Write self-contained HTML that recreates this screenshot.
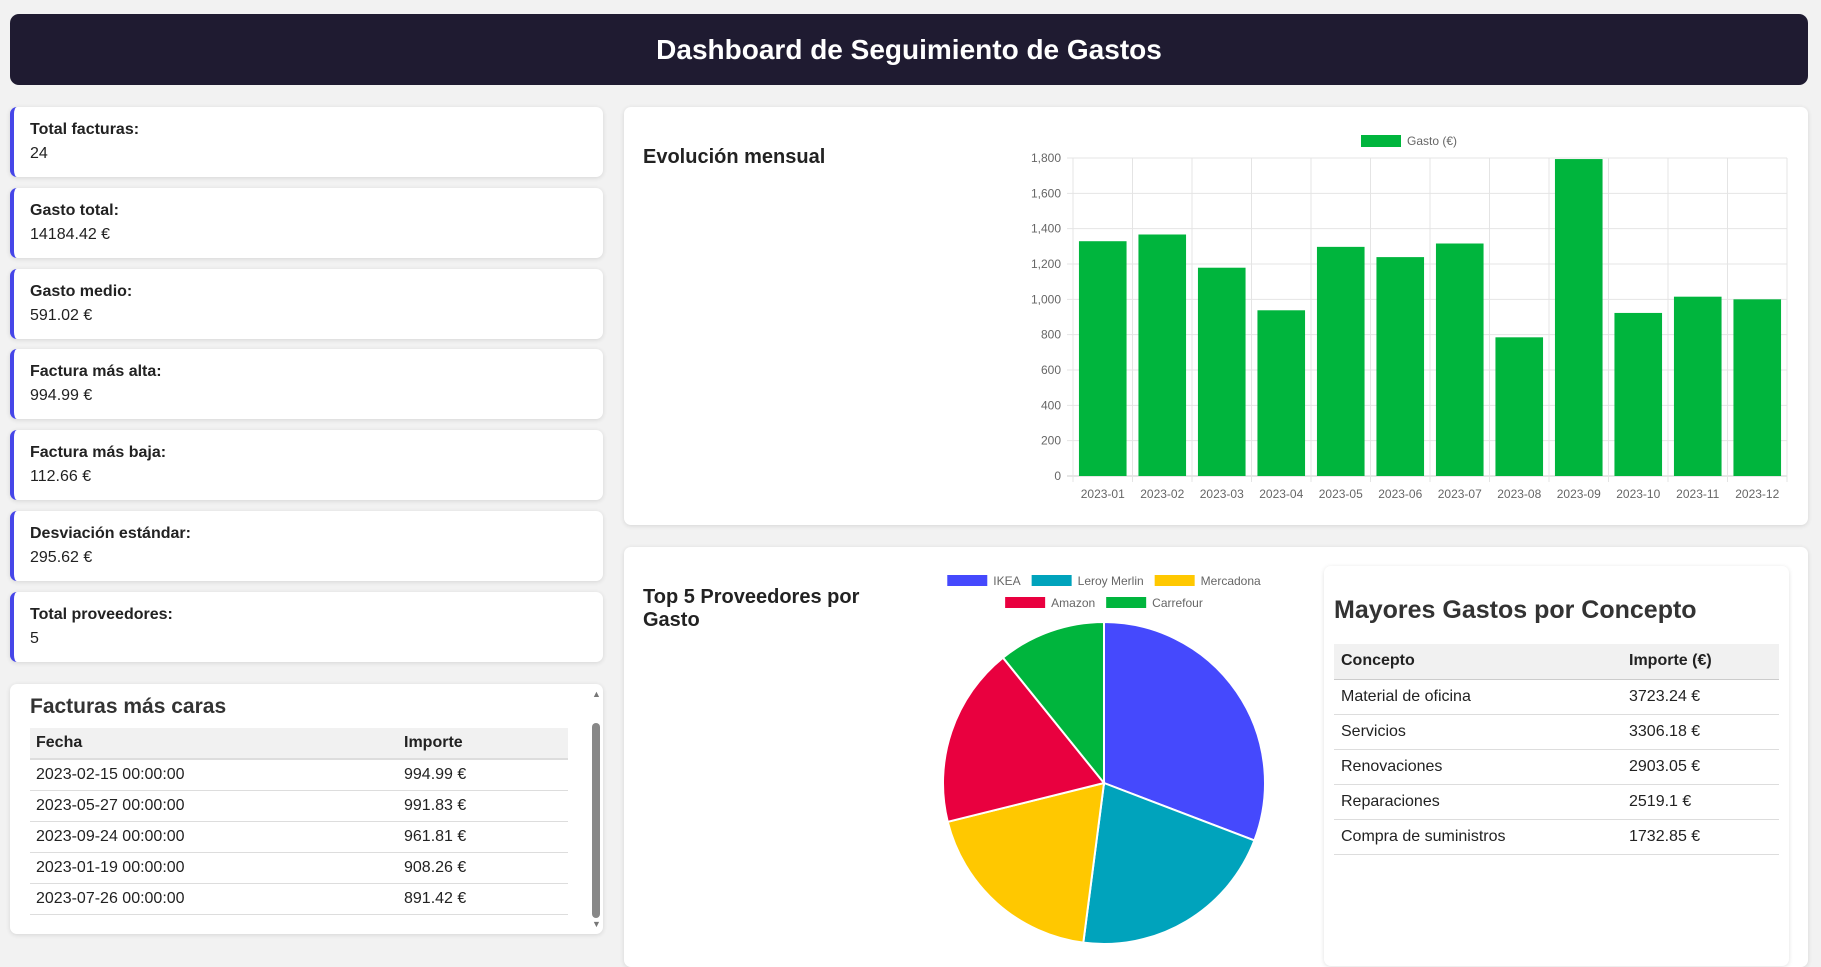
<!DOCTYPE html>
<html><head><meta charset="utf-8">
<style>
*{box-sizing:border-box;margin:0;padding:0}
body{width:1821px;height:955px;overflow:hidden;background:#f2f2f2;font-family:"Liberation Sans",Arial,sans-serif;color:#222;position:relative}
.abs{position:absolute}
.header{left:10px;top:14px;width:1798px;height:71px;background:#1f1b31;border-radius:9px;color:#fff;font-size:28px;font-weight:bold;text-align:center;line-height:71px}
.card{position:absolute;background:#fff;border-radius:7px;box-shadow:0 1px 5px rgba(0,0,0,.12)}
.stat{left:10px;width:593px;height:70px;border-left:4px solid #4646e8;padding:14px 0 0 16px}
.stat b{display:block;font-size:16px;margin-bottom:6px}
.stat span{font-size:16px}
table{border-collapse:collapse}
</style></head><body>
<div class="abs header">Dashboard de Seguimiento de Gastos</div>

<div class="card stat" style="top:107px"><b>Total facturas:</b><span>24</span></div>
<div class="card stat" style="top:188px"><b>Gasto total:</b><span>14184.42 €</span></div>
<div class="card stat" style="top:269px"><b>Gasto medio:</b><span>591.02 €</span></div>
<div class="card stat" style="top:349px"><b>Factura más alta:</b><span>994.99 €</span></div>
<div class="card stat" style="top:430px"><b>Factura más baja:</b><span>112.66 €</span></div>
<div class="card stat" style="top:511px"><b>Desviación estándar:</b><span>295.62 €</span></div>
<div class="card stat" style="top:592px"><b>Total proveedores:</b><span>5</span></div>

<div class="card" style="left:10px;top:684px;width:593px;height:250px">
 <div class="abs" style="left:20px;top:11px;font-size:21px;font-weight:bold;color:#333">Facturas más caras</div>
 <table class="abs" style="left:20px;top:44px;width:538px;font-size:16px">
  <tr style="background:#f1f1f1;height:31px;font-weight:bold;border-bottom:2px solid #ddd"><td style="padding-left:6px;width:374px">Fecha</td><td>Importe</td></tr>
  <tr style="height:31px;border-bottom:1px solid #ddd"><td style="padding-left:6px">2023-02-15 00:00:00</td><td>994.99 €</td></tr>
  <tr style="height:31px;border-bottom:1px solid #ddd"><td style="padding-left:6px">2023-05-27 00:00:00</td><td>991.83 €</td></tr>
  <tr style="height:31px;border-bottom:1px solid #ddd"><td style="padding-left:6px">2023-09-24 00:00:00</td><td>961.81 €</td></tr>
  <tr style="height:31px;border-bottom:1px solid #ddd"><td style="padding-left:6px">2023-01-19 00:00:00</td><td>908.26 €</td></tr>
  <tr style="height:31px;border-bottom:1px solid #ddd"><td style="padding-left:6px">2023-07-26 00:00:00</td><td>891.42 €</td></tr>
 </table>
 <div class="abs" style="left:582px;top:39px;width:8px;height:195px;background:#888;border-radius:4px"></div>
 <div class="abs" style="left:582px;top:5px;font-size:9px;color:#777">▲</div>
 <div class="abs" style="left:582px;top:235px;font-size:9px;color:#777">▼</div>
</div>

<div class="card" style="left:624px;top:107px;width:1184px;height:418px">
 <div class="abs" style="left:19px;top:39px;font-size:20px;font-weight:bold">Evolución mensual</div>
</div>
<svg class="abs" style="left:0;top:0" width="1821" height="955" id="bar"></svg>

<div class="card" style="left:624px;top:547px;width:1184px;height:420px">
 <div class="abs" style="left:19px;top:39px;width:240px;font-size:20px;font-weight:bold;line-height:23px">Top 5 Proveedores por Gasto</div>
</div>
<svg class="abs" style="left:0;top:0" width="1821" height="955" id="pie"></svg>

<div class="card" style="left:1324px;top:566px;width:465px;height:400px">
 <div class="abs" style="left:10px;top:30px;font-size:25px;font-weight:bold;color:#333">Mayores Gastos por Concepto</div>
 <table class="abs" style="left:10px;top:78px;width:445px;font-size:16px">
  <tr style="background:#f1f1f1;height:35px;font-weight:bold;border-bottom:1px solid #ccc"><td style="padding-left:7px;width:295px">Concepto</td><td>Importe (€)</td></tr>
  <tr style="height:35px;border-bottom:1px solid #ddd"><td style="padding-left:7px">Material de oficina</td><td>3723.24 €</td></tr>
  <tr style="height:35px;border-bottom:1px solid #ddd"><td style="padding-left:7px">Servicios</td><td>3306.18 €</td></tr>
  <tr style="height:35px;border-bottom:1px solid #ddd"><td style="padding-left:7px">Renovaciones</td><td>2903.05 €</td></tr>
  <tr style="height:35px;border-bottom:1px solid #ddd"><td style="padding-left:7px">Reparaciones</td><td>2519.1 €</td></tr>
  <tr style="height:35px;border-bottom:1px solid #ddd"><td style="padding-left:7px">Compra de suministros</td><td>1732.85 €</td></tr>
 </table>
</div>

<script>
const months=["2023-01","2023-02","2023-03","2023-04","2023-05","2023-06","2023-07","2023-08","2023-09","2023-10","2023-11","2023-12"];
const gasto=[1329,1367,1179,938,1297,1239,1316,785,1794,923,1015,1000];
const yTicks=[0,200,400,600,800,1000,1200,1400,1600,1800];
const provLabels=["IKEA","Leroy Merlin","Mercadona","Amazon","Carrefour"];
const provValues=[4369,3014,2705,2564,1532];
const provColors=["#4549fd","#00a3bc","#ffc800","#e9003f","#00b53d"];

const NS="http://www.w3.org/2000/svg";
function mk(p,t,a,txt){const e=document.createElementNS(NS,t);for(const k in a)e.setAttribute(k,a[k]);if(txt!==undefined)e.textContent=txt;p.appendChild(e);return e;}
const bar=document.getElementById('bar');
const X0=1073,X1=1787,Y0=476,Y1=158,YMAX=1800;
const y=v=>Y0-(v/YMAX)*(Y0-Y1);
const bw=(X1-X0)/months.length;
const x=i=>X0+i*bw;
yTicks.forEach(t=>{
 const l=mk(bar,'line',{x1:X0-6,x2:X1,y1:y(t),y2:y(t),stroke:t===0?'#ccc':'#e4e4e4'});
 
 
 const tx=mk(bar,'text',{x:X0-12,y:y(t)+4,'text-anchor':'end','font-size':12,fill:'#666','font-family':'Liberation Sans'},t.toLocaleString('en-US'));
 
 
});
for(let i=0;i<=months.length;i++){
 mk(bar,'line',{x1:x(i),x2:x(i),y1:Y1,y2:Y0+6,stroke:'#e4e4e4'});
}
months.forEach((m,i)=>{
 const r=mk(bar,'rect',{x:x(i)+bw*0.1,y:y(gasto[i]),width:bw*0.8,height:Y0-y(gasto[i]),fill:'#00b53d'});
 
 
 const t=mk(bar,'text',{x:x(i)+bw/2,y:Y0+22,'text-anchor':'middle','font-size':12,fill:'#666','font-family':'Liberation Sans'},m);
 
 
});
const lg=mk(bar,'rect',{x:1361,y:135,width:40,height:12,fill:'#00b53d'});


const lt=mk(bar,'text',{x:1407,y:145,'font-size':12,fill:'#666','font-family':'Liberation Sans'},'Gasto (€)');



const pie=document.getElementById('pie');
const cx=1104,cy=783,R=161;
const tot=provValues.reduce((a,b)=>a+b,0);
let a0=-Math.PI/2;
provValues.forEach((v,i)=>{
 const a1=a0+v/tot*2*Math.PI;
 const large=(a1-a0)>Math.PI?1:0;
 const d=`M${cx},${cy} L${cx+R*Math.cos(a0)},${cy+R*Math.sin(a0)} A${R},${R} 0 ${large} 1 ${cx+R*Math.cos(a1)},${cy+R*Math.sin(a1)} Z`;
 const p=mk(pie,'path',{d:d,fill:provColors[i],stroke:'#fff','stroke-width':2});
 
 
 a0=a1;
});
const rows=[[0,1,2],[3,4]];
const ly=[581,603];
rows.forEach((row,ri)=>{
 const items=row.map(i=>{
  const s=mk(pie,'rect',{y:ly[ri]-6,width:40,height:11,fill:provColors[i]});
  
  
  const t=mk(pie,'text',{y:ly[ri]+4,'font-size':12,fill:'#666','font-family':'Liberation Sans'},provLabels[i]);
  return {s,t,w:46+t.getComputedTextLength()};
 });
 const gap=11;
 const totalW=items.reduce((a,b)=>a+b.w,0)+(items.length-1)*gap;
 let sx=cx-totalW/2;
 items.forEach(it=>{
  it.s.setAttribute('x',sx);
  it.t.setAttribute('x',sx+46);
  sx+=it.w+gap;
 });
});
</script>
</body></html>
